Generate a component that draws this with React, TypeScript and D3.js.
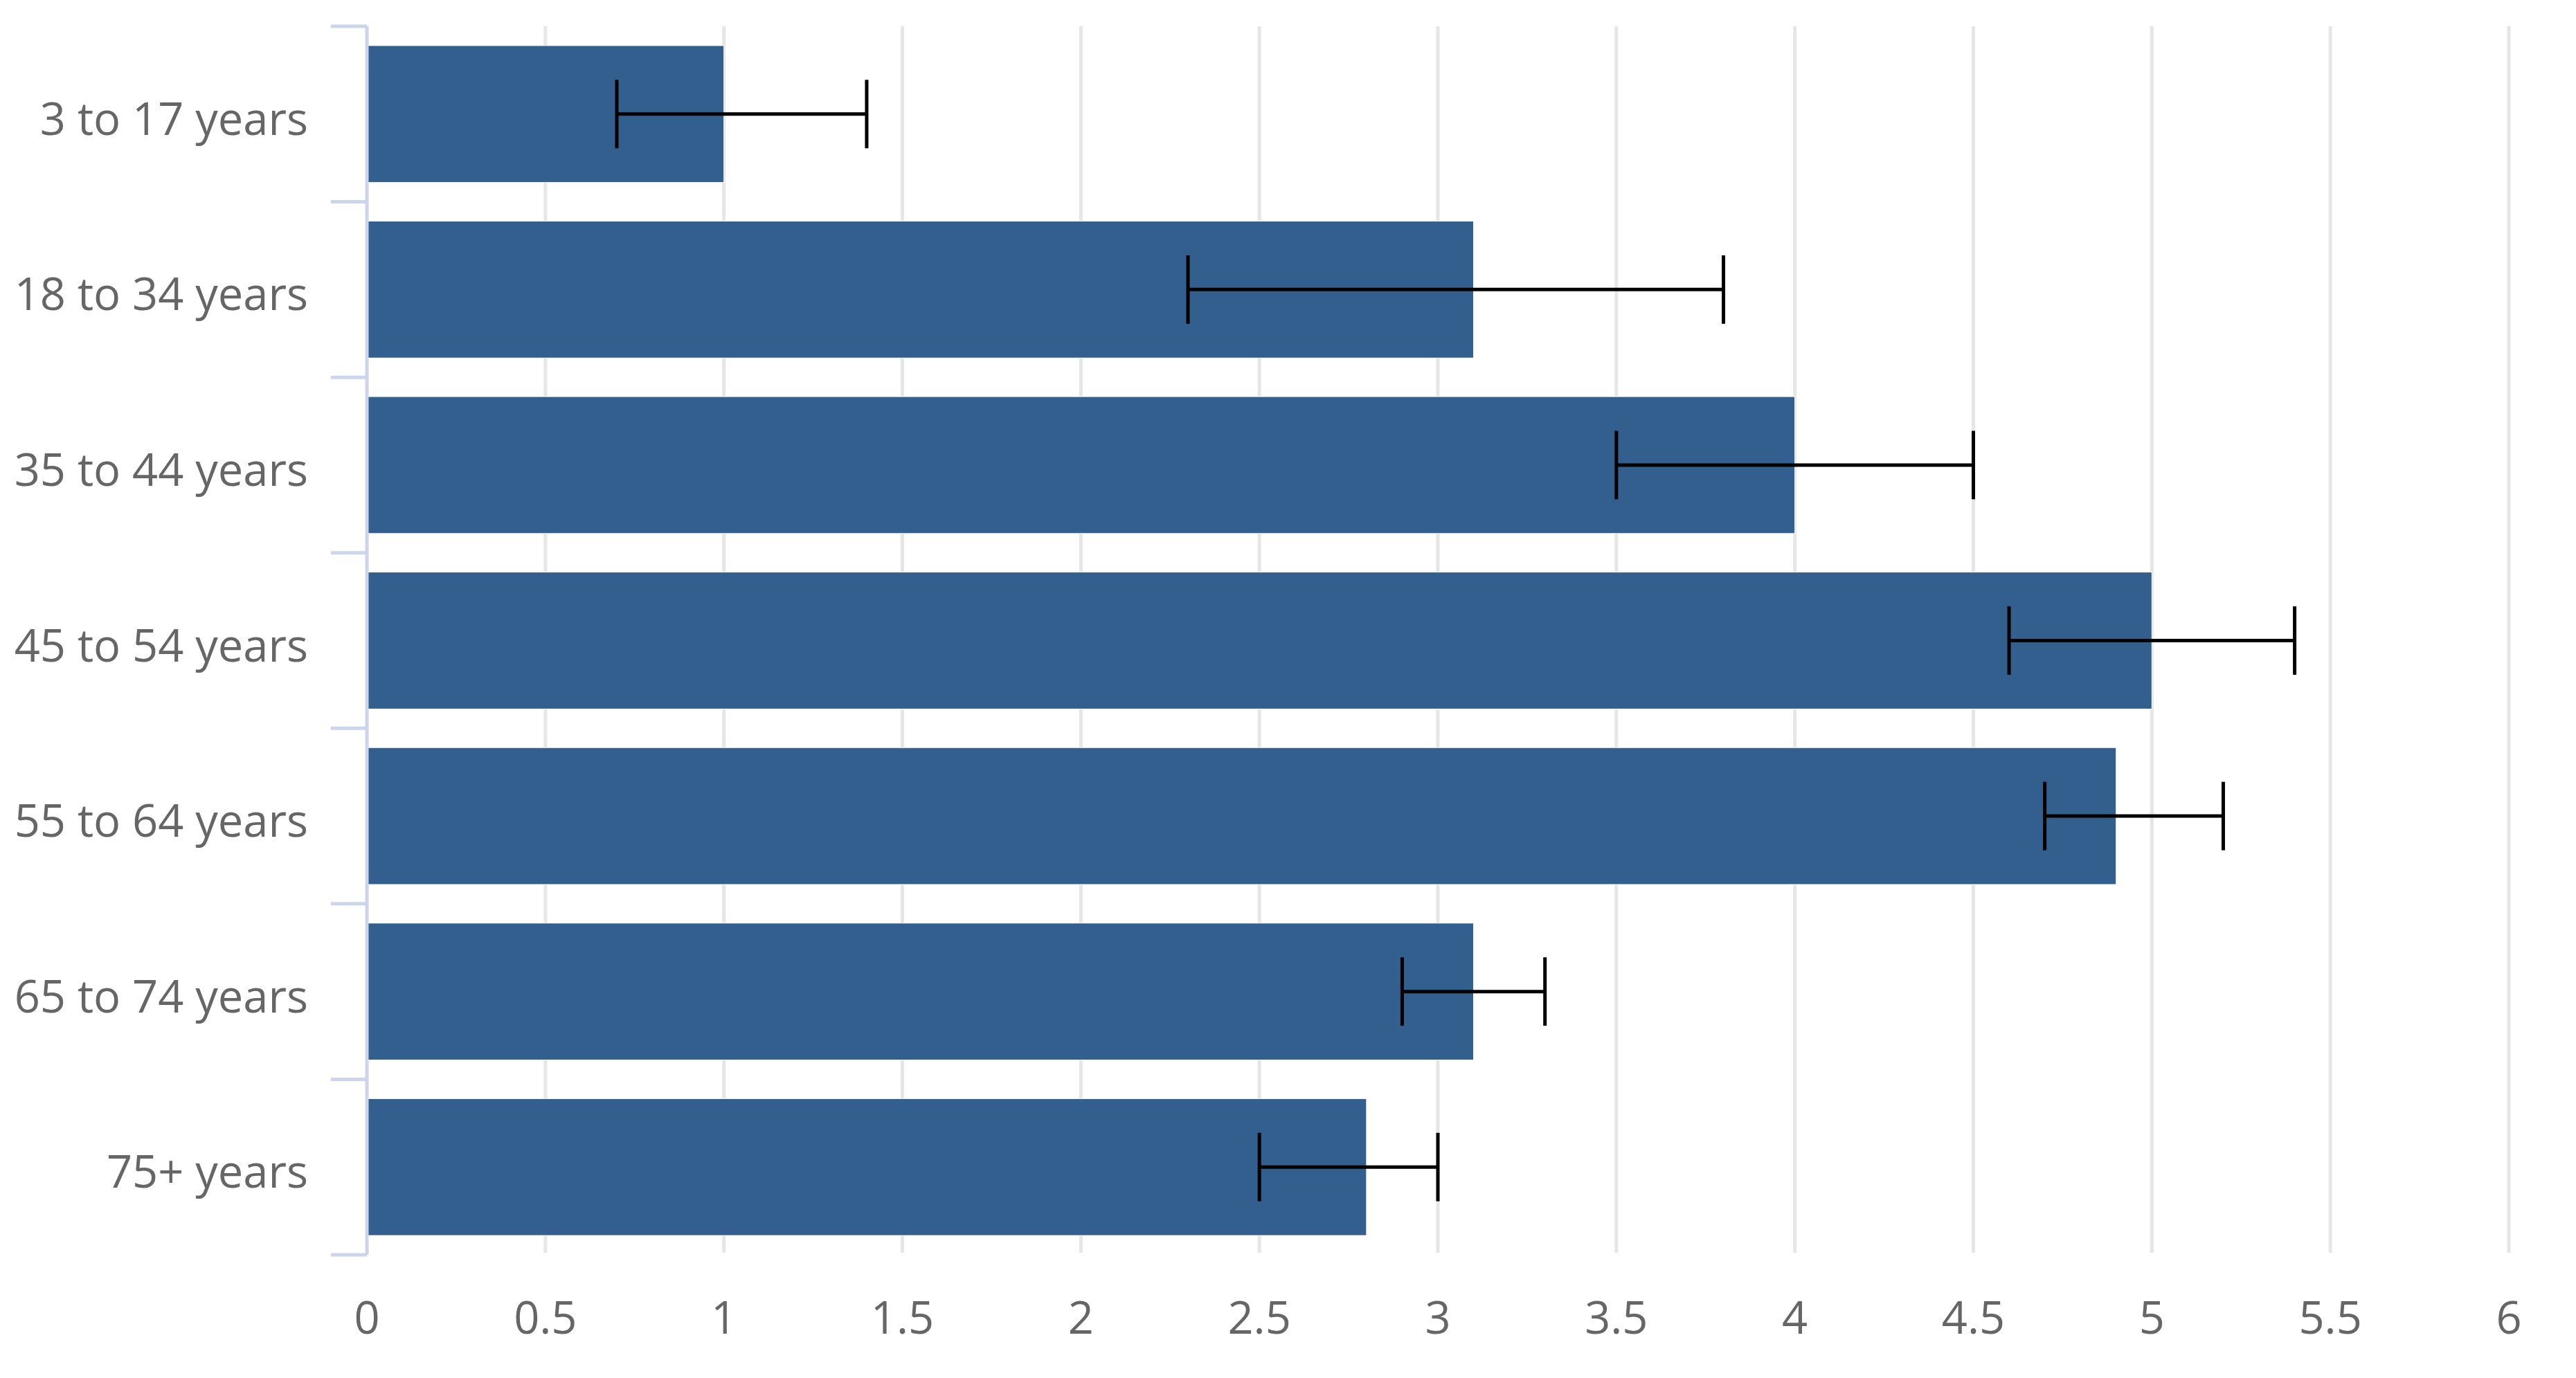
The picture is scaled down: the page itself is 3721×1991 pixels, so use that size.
import React, { useEffect } from "react";
import * as d3 from "d3";

const categories = ["3 to 17 years", "18 to 34 years", "35 to 44 years", "45 to 54 years", "55 to 64 years", "65 to 74 years", "75+ years"];
const values = [1.0, 3.1, 4.0, 5.0, 4.9, 3.1, 2.8];
const errLow = [0.7, 2.3, 3.5, 4.6, 4.7, 2.9, 2.5];
const errHigh = [1.4, 3.8, 4.5, 5.4, 5.2, 3.3, 3.0];
const xTicks = [0, 0.5, 1, 1.5, 2, 2.5, 3, 3.5, 4, 4.5, 5, 5.5, 6];

const W = 3721;
const H = 1991;
const left = 530;
const right = 3624;
const top = 38;
const bottom = 1813;

export default function App() {
  useEffect(() => {
    document.body.style.margin = "0";
  }, []);

  const x = d3.scaleLinear().domain([0, 6]).range([left, right]);
  const y = d3.scaleBand<string>().domain(categories).range([top, bottom]).padding(0);
  const step = y.step();
  const barH = step * 0.78;
  const capH = barH * 0.5;

  return (
    <svg width={W} height={H} style={{ display: "block", background: "#fff" }} fontFamily="'Open Sans', sans-serif">
      {/* grid lines */}
      {xTicks.slice(1).map((t) => (
        <line key={"g" + t} x1={x(t)} x2={x(t)} y1={top} y2={bottom - 3} stroke="#e6e6e6" strokeWidth={5} />
      ))}
      {/* bars */}
      {categories.map((c, i) => (
        <rect
          key={"b" + c}
          x={x(0)}
          y={(y(c) as number) + (step - barH) / 2}
          width={x(values[i]) - x(0)}
          height={barH}
          fill="#335f8f"
          stroke="#ffffff"
          strokeWidth={1}
        />
      ))}
      {/* axis line & ticks */}
      <line x1={left} x2={left} y1={top} y2={bottom} stroke="#ccd6eb" strokeWidth={5} />
      {d3.range(categories.length + 1).map((k) => {
        const yy = top + k * step;
        return <line key={"t" + k} x1={left - 52} x2={left} y1={yy} y2={yy} stroke="#ccd6eb" strokeWidth={5} />;
      })}
      {/* error bars */}
      {categories.map((c, i) => {
        const cy = (y(c) as number) + step / 2;
        return (
          <g key={"e" + c} stroke="#000" strokeWidth={5}>
            <line x1={x(errLow[i])} x2={x(errHigh[i])} y1={cy} y2={cy} />
            <line x1={x(errLow[i])} x2={x(errLow[i])} y1={cy - capH / 2} y2={cy + capH / 2} />
            <line x1={x(errHigh[i])} x2={x(errHigh[i])} y1={cy - capH / 2} y2={cy + capH / 2} />
          </g>
        );
      })}
      {/* category labels */}
      {categories.map((c) => (
        <text key={"l" + c} x={445} y={(y(c) as number) + step / 2 + 30} textAnchor="end" fontSize={65} fill="#666666">
          {c}
        </text>
      ))}
      {/* x labels */}
      {xTicks.map((t) => (
        <text key={"x" + t} x={x(t)} y={1927} textAnchor="middle" fontSize={65} fill="#666666">
          {String(t)}
        </text>
      ))}
    </svg>
  );
}
